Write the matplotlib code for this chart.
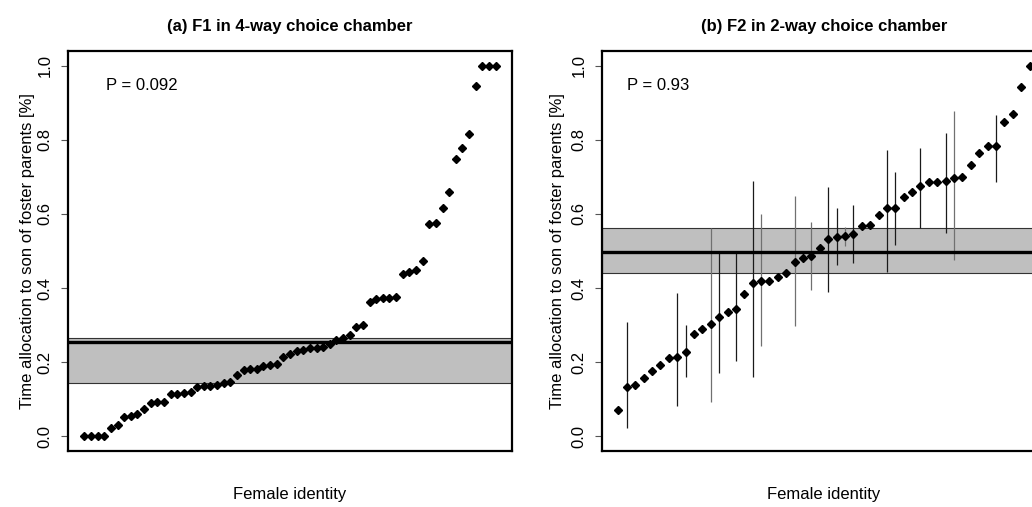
import matplotlib
matplotlib.use("Agg")
import matplotlib.pyplot as plt
import numpy as np

plt.rcParams['font.family'] = ['Liberation Sans', 'DejaVu Sans']

# (a) F1 in 4-way choice chamber, sorted per female
f1_values = [0.0, 0.0, 0.0, 0.0, 0.021, 0.029, 0.052, 0.054, 0.060, 0.074,
             0.090, 0.091, 0.092, 0.114, 0.115, 0.116, 0.118, 0.132, 0.135, 0.136,
             0.139, 0.143, 0.146, 0.166, 0.178, 0.181, 0.182, 0.190, 0.192, 0.196,
             0.215, 0.222, 0.231, 0.232, 0.237, 0.239, 0.241, 0.248, 0.260, 0.265,
             0.272, 0.296, 0.300, 0.363, 0.371, 0.372, 0.372, 0.377, 0.437, 0.443,
             0.450, 0.474, 0.572, 0.576, 0.615, 0.658, 0.749, 0.778, 0.817, 0.946,
             1.0, 1.0, 1.0]
f1_mean = 0.253
f1_band = (0.1435, 0.264)
f1_p = "P = 0.092"

# (b) F2 in 2-way choice chamber
f2_values = [0.072, 0.133, 0.138, 0.156, 0.177, 0.192, 0.212, 0.214, 0.226, 0.275,
             0.289, 0.302, 0.323, 0.336, 0.343, 0.384, 0.413, 0.419, 0.419, 0.429,
             0.440, 0.470, 0.481, 0.487, 0.509, 0.532, 0.539, 0.541, 0.546, 0.568,
             0.569, 0.597, 0.617, 0.617, 0.647, 0.660, 0.676, 0.685, 0.686, 0.690,
             0.698, 0.701, 0.732, 0.764, 0.784, 0.784, 0.848, 0.869, 0.944, 1.0]
# error bar ranges: female index (1-based), low, high, grey?
bar_idx = [2, 8, 9, 12, 13, 15, 17, 18, 22, 24, 26, 27, 28, 29, 33, 34, 37, 40, 41, 46]
bar_lo = [0.023, 0.081, 0.160, 0.093, 0.170, 0.204, 0.160, 0.244, 0.297, 0.396,
          0.388, 0.462, 0.514, 0.467, 0.444, 0.516, 0.563, 0.548, 0.477, 0.685]
bar_hi = [0.309, 0.387, 0.300, 0.561, 0.495, 0.494, 0.690, 0.600, 0.649, 0.577,
          0.674, 0.615, 0.564, 0.624, 0.773, 0.714, 0.779, 0.818, 0.878, 0.868]
bar_grey = [False, False, False, True, False, False, False, True, True, True,
            False, False, True, False, False, False, False, False, True, False]
f2_mean = 0.498
f2_band = (0.440, 0.561)
f2_p = "P = 0.93"

W, H = 1032, 507
fig = plt.figure(figsize=(W / 100, H / 100), dpi=100)
ax1 = fig.add_axes([68 / W, (H - 451) / H, 444 / W, 400 / H])
ax2 = fig.add_axes([602 / W, (H - 451) / H, 444 / W, 400 / H])


def setup(ax, n, title, ptext, px, ylab_x):
    ax.set_xlim(1 - 0.04 * (n - 1), n + 0.04 * (n - 1))
    ax.set_ylim(-0.04, 1.04)
    ax.set_xticks([])
    ax.set_yticks([0.0, 0.2, 0.4, 0.6, 0.8, 1.0])
    ax.set_yticklabels(["0.0", "0.2", "0.4", "0.6", "0.8", "1.0"],
                       rotation=90, va='center', fontsize=12)
    ax.tick_params(axis='y', length=5, width=0.8, color='#555555', pad=6)
    for s in ax.spines.values():
        s.set_linewidth(1.6)
    ax.text(0.5, 1.06, title, transform=ax.transAxes, ha='center',
            va='center', fontsize=12, fontweight='bold')
    ax.text(0.5, -0.11, "Female identity", transform=ax.transAxes,
            ha='center', va='center', fontsize=12)
    ax.text(ylab_x, 0.5, "Time allocation to son of foster parents [%]",
            transform=ax.transAxes, rotation=90, ha='center', va='center',
            fontsize=12)
    ax.text(px, 0.915, ptext, transform=ax.transAxes, ha='left',
            va='center', fontsize=12)


def band(ax, lo, hi, mean):
    ax.axhspan(lo, hi, facecolor='#bfbfbf', edgecolor='#333333',
               linewidth=0.8, zorder=1)
    ax.axhline(mean, color='black', linewidth=2.4, zorder=3)


# panel a
n1 = len(f1_values)
x1 = np.arange(1, n1 + 1)
band(ax1, f1_band[0], f1_band[1], f1_mean)
ax1.plot(x1, f1_values, 'D', color='black', markersize=4.2, zorder=4)
setup(ax1, n1, "(a) F1 in 4-way choice chamber", f1_p, 0.086, -0.092)

# panel b
n2 = len(f2_values)
x2 = np.arange(1, n2 + 1)
band(ax2, f2_band[0], f2_band[1], f2_mean)
for i, lo, hi, g in zip(bar_idx, bar_lo, bar_hi, bar_grey):
    ax2.vlines(i, lo, hi, color='#707070' if g else '#1a1a1a',
               linewidth=0.9, zorder=2)
ax2.plot(x2, f2_values, 'D', color='black', markersize=4.2, zorder=4)
setup(ax2, n2, "(b) F2 in 2-way choice chamber", f2_p, 0.056, -0.101)

fig.savefig("out.png", dpi=100)
